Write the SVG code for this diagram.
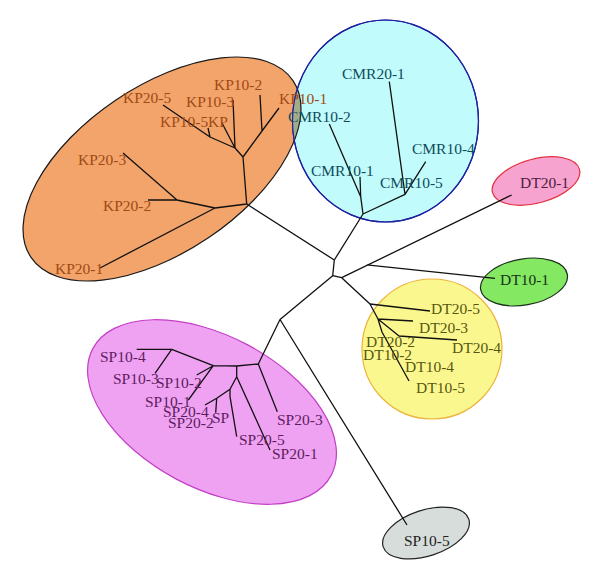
<svg xmlns="http://www.w3.org/2000/svg" width="600" height="579" viewBox="0 0 600 579">
<style>
text{font-family:"Liberation Serif","Times New Roman",serif;font-size:15.5px}
.kp{fill:#9E4A14}.cmr{fill:#0F4C5C}.dt{fill:#56570F}.sp{fill:#5C1D5E}
#connectors path{fill:none;stroke:#111;stroke-width:1.3;stroke-linejoin:round}
</style>
<defs>
<clipPath id="cyanClip"><ellipse cx="385.5" cy="121" rx="93" ry="101"/></clipPath>
</defs>
<rect width="600" height="579" fill="#fff"/>
<g id="group-KP">
<ellipse cx="162" cy="169" rx="158" ry="83" transform="rotate(-34 162 169)" fill="#F3A46B" stroke="#1a1a1a" stroke-width="1.2"/>
</g>
<g id="group-CMR">
<ellipse cx="385.5" cy="121" rx="93" ry="101" fill="#C2FBFB" stroke="#1E22A0" stroke-width="1.2"/>
<g clip-path="url(#cyanClip)">
<ellipse cx="162" cy="169" rx="158" ry="83" transform="rotate(-34 162 169)" fill="#A2AC88" stroke="#1a1a1a" stroke-width="1.2"/>
</g>
<ellipse cx="385.5" cy="121" rx="93" ry="101" fill="none" stroke="#1E22A0" stroke-width="1.2"/>
</g>
<g id="group-DT20-1">
<ellipse cx="536" cy="181" rx="45" ry="22" transform="rotate(-15 536 181)" fill="#F7A3CF" stroke="#E2303E" stroke-width="1.2"/>
</g>
<g id="group-DT10-1">
<ellipse cx="524" cy="282" rx="44" ry="23" transform="rotate(-10 524 282)" fill="#84E862" stroke="#1A2E1A" stroke-width="1.2"/>
</g>
<g id="group-DT">
<circle cx="432" cy="349" r="70" fill="#FBF78F" stroke="#EDB33A" stroke-width="1.2"/>
</g>
<g id="group-SP">
<ellipse cx="212" cy="412" rx="135" ry="76" transform="rotate(28 212 412)" fill="#F0A2F2" stroke="#C23FC6" stroke-width="1.2"/>
</g>
<g id="group-SP10-5">
<ellipse cx="426" cy="533" rx="45" ry="23" transform="rotate(-18 426 533)" fill="#D6DDDA" stroke="#222" stroke-width="1.2"/>
</g>
<g id="connectors">
<path d="M246.7,204 L334.3,260 L363,214 M334.3,260 L332.7,275.7 L280,319.5 M332.7,275.7 L341.7,277.7 L511.7,195 M366.7,264.8 L495,278.3 M341.7,277.7 L370,304 M280,319.5 L407,525"/>
<path d="M246.7,204 L243,157 M246.7,204 L215,208 L100,268 M215,208 L177,200 L148,200 M177,200 L123,153 M243,157 L262,131 L279,108 M262,131 L260,95 M243,157 L235,148 L233,100 M235,148 L222,123 M235,148 L210,137 L163,105 M210,137 L208,128"/>
<path d="M363,214 L360.7,196.7 L360,176.7 M360.7,196.7 L329.3,124 M363,214 L405,194.3 L389.3,81.7 M405,194.3 L425.7,161.7"/>
<path d="M370,304 L430,311 M370,304 L378,319 L413,321 M378,319 L399,336 L457,340 M378,319 L382,332 L409,381"/>
<path d="M280,319.5 L258.3,364 L277.3,411.7 M258.3,364 L236.7,366 L213.3,365.7 M236.7,366 L236.7,376.7 L270,450 M236.7,376.7 L230,389.3 L230,396.7 L236.7,436.7 M230,389.3 L216.7,398.3 L205,405 M216.7,398.3 L215.7,412.7 M213.3,365.7 L171.7,349.3 L136.7,349.3 M171.7,349.3 L155,373.3 M213.3,365.7 L196.7,375 M213.3,365.7 L188.3,400"/>
</g>
<g id="labels-KP" class="kp">
<text x="123" y="103">KP20-5</text>
<text x="186" y="107">KP10-3</text>
<text x="214" y="90">KP10-2</text>
<text x="279" y="104">KP10-1</text>
<text x="160" y="127">KP10-5</text>
<text x="208" y="127">KP</text>
<text x="78" y="165">KP20-3</text>
<text x="103" y="211">KP20-2</text>
<text x="55" y="274">KP20-1</text>
</g>
<g id="labels-CMR" class="cmr">
<text x="342" y="79">CMR20-1</text>
<text x="288" y="122">CMR10-2</text>
<text x="412" y="154">CMR10-4</text>
<text x="311" y="176">CMR10-1</text>
<text x="380" y="188">CMR10-5</text>
</g>
<g id="labels-DT" class="dt">
<text x="431" y="314">DT20-5</text>
<text x="419" y="333">DT20-3</text>
<text x="452" y="353">DT20-4</text>
<text x="366" y="347">DT20-2</text>
<text x="363" y="360">DT10-2</text>
<text x="405" y="372">DT10-4</text>
<text x="416" y="393">DT10-5</text>
</g>
<g id="labels-single">
<text x="520" y="188" fill="#4A2040">DT20-1</text>
<text x="500" y="285" fill="#143214">DT10-1</text>
<text x="404" y="546" fill="#222">SP10-5</text>
</g>
<g id="labels-SP" class="sp">
<text x="100" y="362">SP10-4</text>
<text x="113" y="384">SP10-3</text>
<text x="156" y="388">SP10-2</text>
<text x="145" y="407">SP10-1</text>
<text x="163" y="417">SP20-4</text>
<text x="168" y="428">SP20-2</text>
<text x="212" y="423">SP</text>
<text x="277" y="425">SP20-3</text>
<text x="239" y="445">SP20-5</text>
<text x="272" y="459">SP20-1</text>
</g>
</svg>
